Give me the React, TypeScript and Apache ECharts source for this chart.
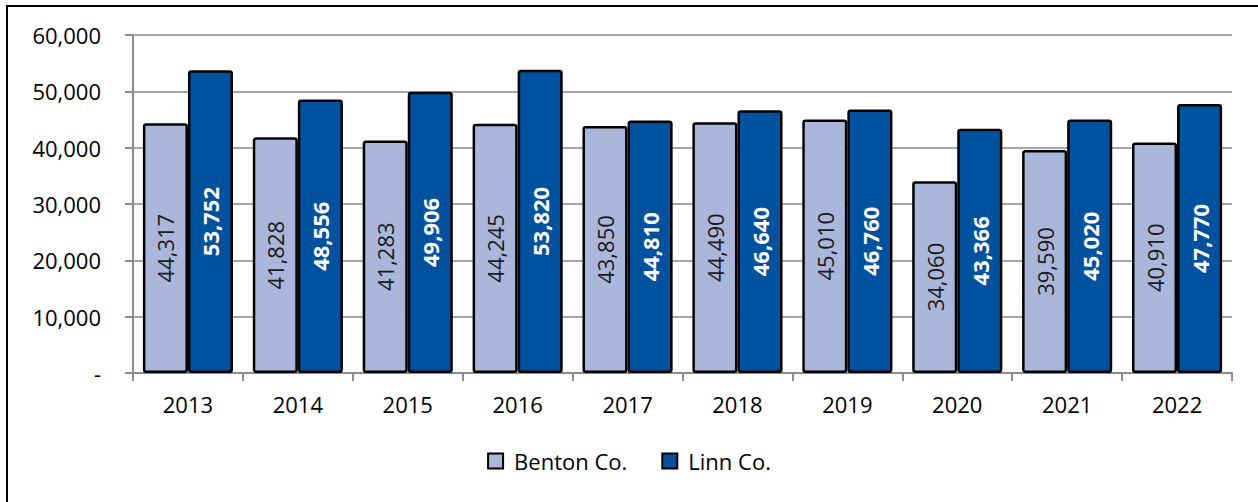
import React, { useEffect, useRef } from "react";
import * as echarts from "echarts";

const years = ["2013", "2014", "2015", "2016", "2017", "2018", "2019", "2020", "2021", "2022"];
const benton = [44317, 41828, 41283, 44245, 43850, 44490, 45010, 34060, 39590, 40910];
const linn = [53752, 48556, 49906, 53820, 44810, 46640, 46760, 43366, 45020, 47770];
const seriesNames = ["Benton Co.", "Linn Co."];

const FONT = "'Open Sans', 'Noto Sans', sans-serif";
const fmt = (v: number) => (v === 0 ? "-" : v.toLocaleString("en-US"));

export default function App() {
  const ref = useRef<HTMLDivElement>(null);
  useEffect(() => {
    if (!ref.current) return;
    const chart = echarts.init(ref.current, null, { renderer: "svg" });
    chart.setOption({
      animation: false,
      backgroundColor: "#ffffff",
      textStyle: { fontFamily: FONT },
      graphic: [
        {
          type: "rect",
          shape: { x: 7, y: 6, width: 1270, height: 520 },
          style: { fill: "none", stroke: "#000", lineWidth: 2 },
          silent: true,
        },
      ],
      grid: { left: 133, right: 26, top: 35, bottom: 129, containLabel: false },
      legend: {
        bottom: 25,
        left: "center",
        itemWidth: 15,
        itemHeight: 15,
        itemGap: 34,
        icon: "rect",
        textStyle: { fontSize: 22, color: "#000", fontFamily: FONT, padding: [0, 0, 0, 6] },
        data: seriesNames,
      },
      xAxis: {
        type: "category",
        data: years,
        axisLine: { show: true, lineStyle: { color: "#8c8c8c", width: 2 } },
        axisTick: { show: true, length: 8, lineStyle: { color: "#8c8c8c", width: 2 } },
        axisLabel: { fontSize: 22, color: "#000", margin: 20, fontFamily: FONT },
      },
      yAxis: {
        type: "value",
        min: 0,
        max: 60000,
        interval: 10000,
        axisLine: { show: true, lineStyle: { color: "#8c8c8c", width: 2 } },
        axisTick: { show: true, length: 8, lineStyle: { color: "#8c8c8c", width: 2 } },
        splitLine: { show: true, lineStyle: { color: "#a6a6a6", width: 2 } },
        axisLabel: { fontSize: 22, color: "#000", margin: 32, formatter: fmt, fontFamily: FONT },
      },
      series: [
        {
          name: seriesNames[0],
          type: "bar",
          data: benton,
          barGap: "0%",
          barCategoryGap: "18%",
          itemStyle: { color: "#AAB6DA", borderColor: "#000", borderWidth: 2.5, borderRadius: 2 },
          label: {
            show: true,
            position: "inside",
            rotate: 90,
            formatter: (p: any) => fmt(p.value),
            fontSize: 22,
            color: "#1a1a1a",
            fontFamily: FONT,
          },
        },
        {
          name: seriesNames[1],
          type: "bar",
          data: linn,
          barGap: "0%",
          barCategoryGap: "18%",
          itemStyle: { color: "#00529F", borderColor: "#000", borderWidth: 2.5, borderRadius: 2 },
          label: {
            show: true,
            position: "inside",
            rotate: 90,
            formatter: (p: any) => fmt(p.value),
            fontSize: 22,
            fontWeight: "bold",
            color: "#ffffff",
            fontFamily: FONT,
          },
        },
      ],
    });
    return () => chart.dispose();
  }, []);
  return (
    <div
      ref={ref}
      style={{ position: "absolute", left: 0, top: 0, width: 1258, height: 502 }}
    />
  );
}
